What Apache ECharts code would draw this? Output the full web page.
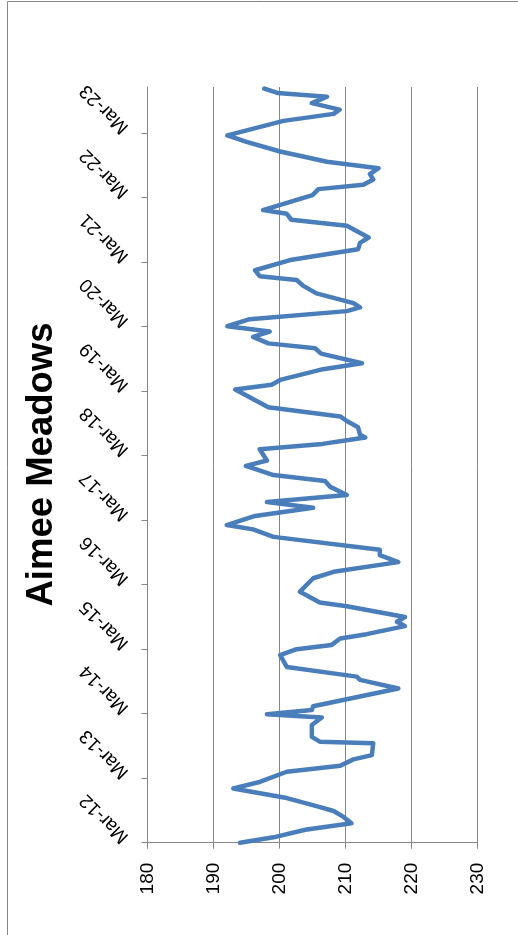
<!DOCTYPE html>
<html>
<head>
<meta charset="utf-8">
<script src="https://cdn.jsdelivr.net/npm/echarts@6/dist/echarts.min.js"></script>
<style>
html,body{margin:0;padding:0;background:#fff;}
#chart{width:518px;height:935px;}
</style>
</head>
<body>
<div id="chart"></div>
<script>
// Time of each reading, in months after Mar-2012
const monthsSinceMar2012 = [0.0,1.0,2.4,3.6,4.8,5.9,6.8,8.3,10.1,11.3,13.2,14.3,15.5,16.3,18.5,18.8,19.7,21.9,23.3,23.9,24.7,25.4,28.7,30.3,30.9,32.7,34.9,36.0,36.8,38.0,38.8,40.3,41.1,42.0,44.0,44.7,46.7,49.2,50.4,52.2,53.5,54.5,56.9,58.3,59.1,60.8,62.3,63.4,64.7,66.2,67.3,68.4,70.1,71.1,73.2,74.2,75.4,75.9,77.3,78.3,79.3,81.0,84.3,85.2,86.1,88.1,89.2,91.0,92.0,92.9,94.1,95.1,96.1,97.4,98.9,99.6,100.4,102.2,103.6,104.7,105.4,106.5,108.4,110.4,111.6,112.6,114.8,115.9,117.0,117.7,120.5,121.6,122.4,123.4,124.4,125.5,126.7,128.6,130.4,131.6,134.3,135.6,136.4,137.6,138.8,139.5,140.3];
// Reading values
const levels = [194.0,199.1,203.9,210.9,209.7,208.2,205.6,201.1,193.0,197.0,201.1,209.2,211.2,214.0,214.2,206.1,204.9,204.9,206.4,198.1,204.9,205.1,218.0,212.2,211.7,201.1,200.1,202.6,207.9,209.2,213.2,219.0,217.8,219.0,210.2,206.1,203.1,205.1,208.2,218.0,215.2,215.2,199.1,196.0,192.0,196.3,205.1,198.1,210.2,207.7,206.9,199.1,194.9,198.1,197.0,206.5,213.0,212.2,211.9,210.4,209.2,198.3,193.3,198.8,200.1,206.6,212.5,206.3,205.4,198.3,196.0,198.5,192.1,195.5,210.2,212.2,211.2,205.6,203.6,202.6,197.0,196.3,201.6,211.9,212.2,213.5,210.2,201.8,201.1,197.5,205.0,205.9,212.7,214.2,213.7,215.0,207.2,200.1,195.0,192.1,200.6,208.2,209.1,204.9,207.2,199.7,197.7];
// Category tick positions (March of each year) and their labels
const dateTicks = [0,12,24,36,48,60,72,84,96,108,120,132];
const dateTickLabels = ['Mar-12','Mar-13','Mar-14','Mar-15','Mar-16','Mar-17','Mar-18','Mar-19','Mar-20','Mar-21','Mar-22','Mar-23'];
const valueTicks = [180,190,200,210,220,230];
const chartTitle = 'Aimee Meadows';

const chart = echarts.init(document.getElementById('chart'), null, {renderer:'canvas'});
const seriesData = levels.map((v,i)=>[v, monthsSinceMar2012[i]]);
const FONT = 'Liberation Sans';
chart.setOption({
  animation:false,
  backgroundColor:'#fff',
  grid:{left:147.5, right:40.5, top:87, bottom:92.3},
  xAxis:{
    type:'value', min:valueTicks[0], max:valueTicks[valueTicks.length-1], interval:10,
    axisLine:{show:true, lineStyle:{color:'#868686', width:1}},
    axisTick:{show:true, length:6, lineStyle:{color:'#868686'}},
    splitLine:{show:true, lineStyle:{color:'#868686', width:1}},
    axisLabel:{rotate:90, margin:20, color:'#000', fontSize:19, fontFamily:FONT}
  },
  yAxis:{
    type:'value', min:0, max:140.6,
    axisLine:{show:true, lineStyle:{color:'#868686', width:1}},
    axisTick:{show:true, length:6, customValues:dateTicks, lineStyle:{color:'#868686'}},
    splitLine:{show:false},
    axisLabel:{
      customValues:dateTicks, rotate:135, align:'left', verticalAlign:'middle',
      margin:19, padding:[0,0,0,4], color:'#000', fontSize:19, fontFamily:FONT,
      formatter:function(v){const k=dateTicks.indexOf(Math.round(v)); return k>=0?dateTickLabels[k]:'';}
    }
  },
  series:[{
    type:'line', data:seriesData, showSymbol:false, smooth:false,
    lineStyle:{color:'#4a7ebb', width:4.5, cap:'round', join:'round'}
  }],
  graphic:[
    {type:'rect', shape:{x:7.5, y:1.5, width:600, height:1000}, style:{fill:'none', stroke:'#868686', lineWidth:1}, silent:true},
    {type:'text', x:42, y:464.5, rotation:Math.PI/2,
     style:{text:chartTitle, fontSize:36.5, fontWeight:'bold', fontFamily:FONT, fill:'#000', align:'center', verticalAlign:'middle'}}
  ]
});
</script>
</body>
</html>
